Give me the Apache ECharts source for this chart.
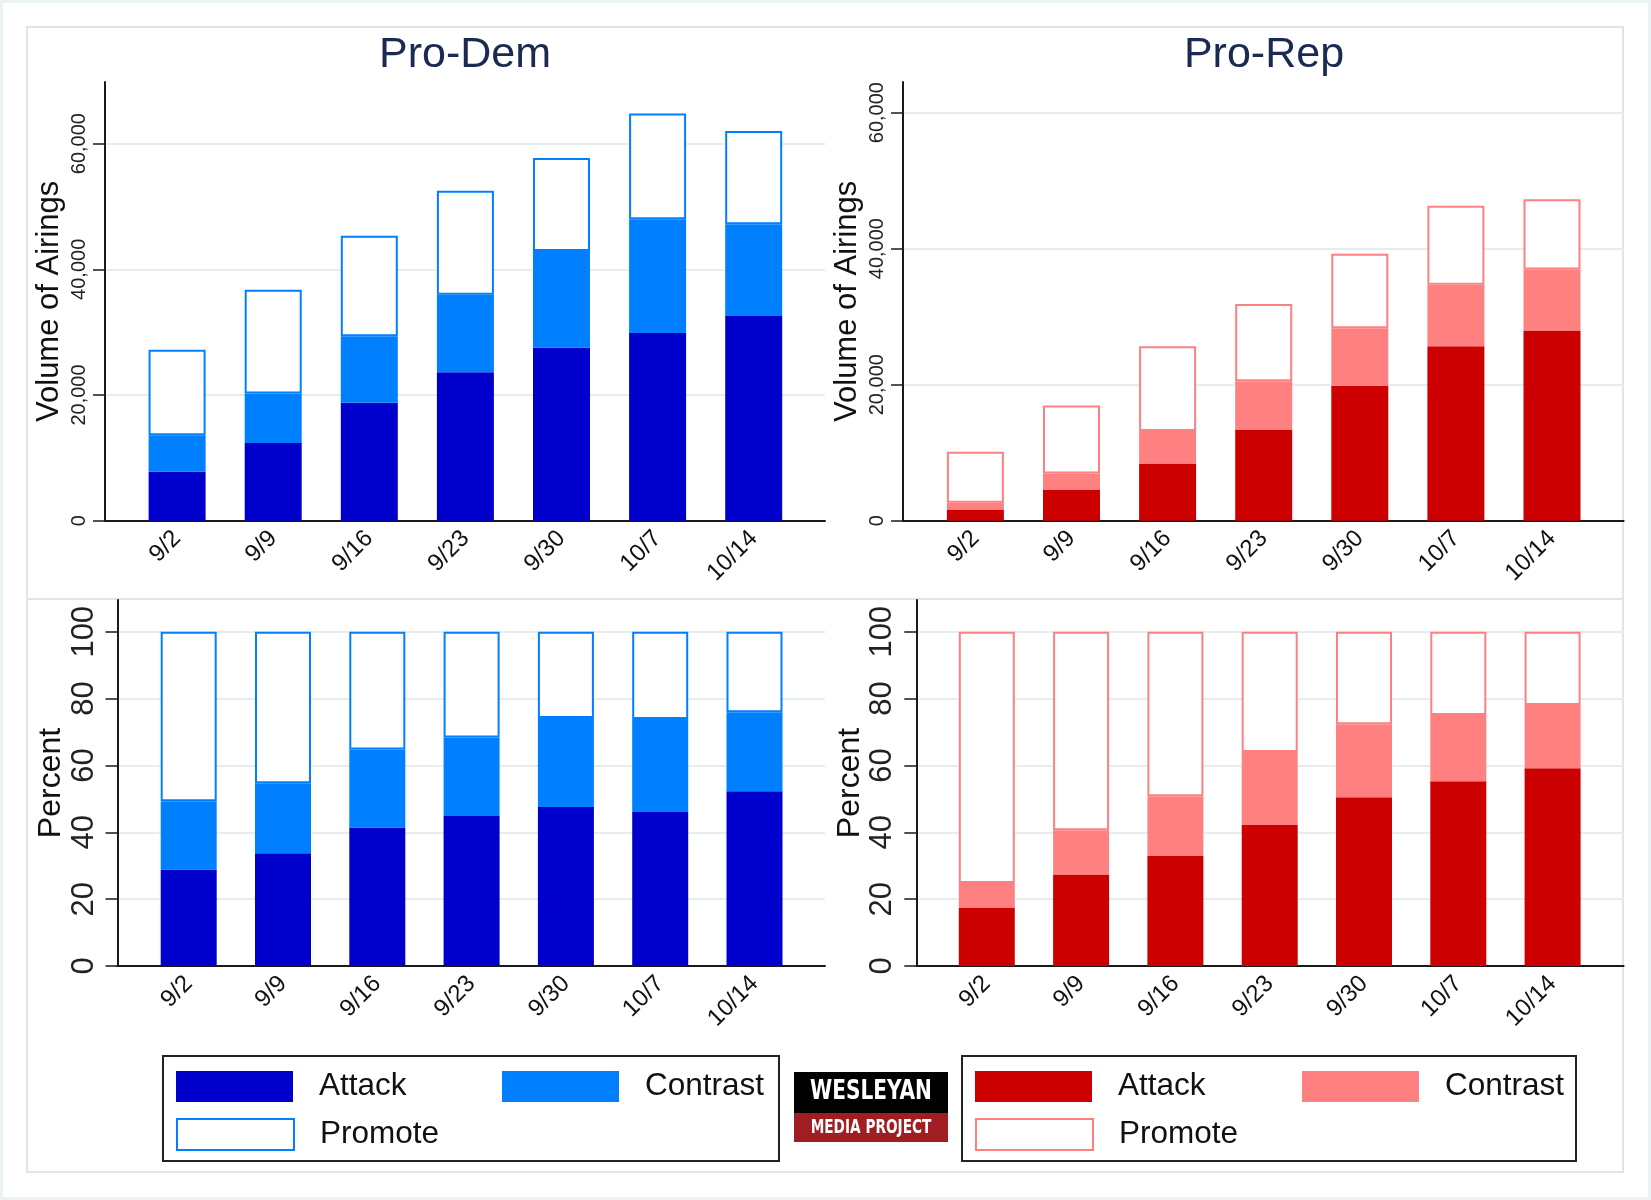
<!DOCTYPE html>
<html>
<head>
<meta charset="utf-8">
<script src="https://cdn.jsdelivr.net/npm/echarts@6/dist/echarts.min.js"></script>
<style>
html,body{margin:0;padding:0;background:#ecf3f4;}
#chart{width:1651px;height:1200px;}
</style>
</head>
<body>
<div id="chart"></div>
<script>
// ---- Data ----
const categories = ['9/2','9/9','9/16','9/23','9/30','10/7','10/14'];

const demVolAttack   = [7800, 12350, 18750, 23600, 27500, 29850, 32550];
const demVolContrast = [5800, 7900, 10600, 12350, 15400, 18100, 14600];
const demVolPromote  = [13600, 16500, 16000, 16550, 14800, 16850, 14850];

const repVolAttack   = [1650, 4600, 8400, 13400, 19850, 25650, 27950];
const repVolContrast = [1000, 2350, 4800, 7100, 8450, 9050, 9000];
const repVolPromote  = [7500, 10000, 12450, 11350, 10950, 11600, 10300];

const demPctAttack   = [28.9, 33.7, 41.4, 44.9, 47.6, 46.1, 52.3];
const demPctContrast = [20.4, 21.0, 23.4, 23.5, 26.6, 27.8, 23.6];
const demPctPromote  = [50.7, 45.3, 35.2, 31.6, 25.8, 26.1, 24.1];

const repPctAttack   = [17.5, 27.4, 32.9, 42.2, 50.5, 55.3, 59.2];
const repPctContrast = [7.3, 13.2, 17.9, 21.8, 21.8, 19.8, 18.9];
const repPctPromote  = [75.2, 59.4, 49.2, 36.0, 27.7, 24.9, 21.9];

const volTicks = [0, 20000, 40000, 60000];
const pctTicks = [0, 20, 40, 60, 80, 100];

const panelTitles = ['Pro-Dem', 'Pro-Rep'];
const volAxisName = 'Volume of Airings';
const pctAxisName = 'Percent';

// ---- Styles ----
const FONT = "'Liberation Sans', Arial, sans-serif";
const demColors = { attack: '#0000cc', contrast: '#0080ff', promote: '#0080ff' };
const repColors = { attack: '#cc0000', contrast: '#ff8080', promote: '#ff8080' };

const panels = [
  { // top-left
    names: ['Attack','Contrast','Promote'], colors: demColors,
    data: [demVolAttack, demVolContrast, demVolPromote],
    max: 69800, ticks: volTicks, axisName: volAxisName,
    a: {left:105, top:82, width:720, height:438.7},
    b: {left:129.05, width:672.7}, barWidth:57,
    labelSize:20, labelMargin:16, nameGap:40, nameSize:31, tickLen:12
  },
  { // top-right
    names: ['Rep Attack','Rep Contrast','Rep Promote'], colors: repColors,
    data: [repVolAttack, repVolContrast, repVolPromote],
    max: 64500, ticks: volTicks, axisName: volAxisName,
    a: {left:903, top:82, width:720.6, height:438.7},
    b: {left:927.35, width:672.7}, barWidth:57,
    labelSize:20, labelMargin:16, nameGap:40, nameSize:31, tickLen:12
  },
  { // bottom-left
    names: ['Attack','Contrast','Promote'], colors: demColors,
    data: [demPctAttack, demPctContrast, demPctPromote],
    max: 109.5, ticks: pctTicks, axisName: pctAxisName,
    a: {left:117.5, top:600, width:707.5, height:366},
    b: {left:141.55, width:660.1}, barWidth:56,
    labelSize:31, labelMargin:18, nameGap:50, nameSize:32, tickLen:12
  },
  { // bottom-right
    names: ['Rep Attack','Rep Contrast','Rep Promote'], colors: repColors,
    data: [repPctAttack, repPctContrast, repPctPromote],
    max: 109.5, ticks: pctTicks, axisName: pctAxisName,
    a: {left:916.3, top:600, width:707.3, height:366},
    b: {left:939.65, width:660.1}, barWidth:56,
    labelSize:31, labelMargin:18, nameGap:50, nameSize:32, tickLen:12
  }
];

const grid = [], xAxis = [], yAxis = [], series = [];
panels.forEach((p, i) => {
  const ga = 2*i, gb = 2*i + 1;
  grid.push({left:p.a.left, top:p.a.top, width:p.a.width, height:p.a.height});
  grid.push({left:p.b.left, top:p.a.top, width:p.b.width, height:p.a.height});
  xAxis.push({
    gridIndex: ga, type:'value', min:0, max:1,
    axisLine:{show:true, onZero:false, lineStyle:{color:'#1a1a1a', width:2}},
    axisTick:{show:false}, axisLabel:{show:false}, splitLine:{show:false}
  });
  xAxis.push({
    gridIndex: gb, type:'category', data: categories,
    axisLine:{show:false}, axisTick:{show:false}, splitLine:{show:false},
    axisLabel:{rotate:45, interval:0, fontSize:24, margin:14, color:'#111', fontFamily:FONT}
  });
  yAxis.push({
    gridIndex: ga, type:'value', min:0, max:p.max,
    axisLine:{show:true, lineStyle:{color:'#1a1a1a', width:2}},
    axisTick:{show:true, length:p.tickLen, customValues:p.ticks, lineStyle:{color:'#1a1a1a', width:1.5}},
    axisLabel:{customValues:p.ticks, rotate:90, fontSize:p.labelSize, margin:p.labelMargin, color:'#222', fontFamily:FONT,
      formatter: v => Number(v).toLocaleString('en-US')},
    splitLine:{show:true, lineStyle:{color:'#e5edef', width:2}},
    name: p.axisName, nameLocation:'middle', nameGap:p.nameGap,
    nameTextStyle:{fontSize:p.nameSize, color:'#111', fontFamily:FONT}
  });
  yAxis.push({gridIndex: gb, type:'value', min:0, max:p.max, show:false});
  const keys = ['attack','contrast','promote'];
  p.data.forEach((arr, k) => {
    const isPromote = k === 2;
    series.push({
      name: p.names[k], type:'bar', stack:'s'+i,
      xAxisIndex: gb, yAxisIndex: gb, barWidth: p.barWidth,
      data: arr,
      itemStyle: isPromote
        ? {color:'#ffffff', borderColor:p.colors.promote, borderWidth:2}
        : {color:p.colors[keys[k]]},
      emphasis:{disabled:true}
    });
  });
});

// Titles
const title = [
  {text: panelTitles[0], left:460, top:29, textAlign:'center',
   textStyle:{fontSize:43, fontWeight:'normal', color:'#1a2a50', fontFamily:FONT}},
  {text: panelTitles[1], left:1259, top:29, textAlign:'center',
   textStyle:{fontSize:43, fontWeight:'normal', color:'#1a2a50', fontFamily:FONT}}
];

// Legends (one per item for exact placement)
function leg(name, left, top, style){
  return {
    data:[{name:name, icon:'rect', itemStyle:style}],
    left:left, top:top, itemWidth:117, itemHeight:31, padding:0,
    selectedMode:false,
    formatter: n => n.replace('Rep ', ''),
    textStyle:{fontSize:31.5, color:'#111', fontFamily:FONT, lineHeight:31, padding:[4,0,0,21]}
  };
}
const legend = [
  leg('Attack', 176, 1069, {color:demColors.attack}),
  leg('Contrast', 502, 1069, {color:demColors.contrast}),
  leg('Promote', 176, 1117, {color:'#ffffff', borderColor:demColors.promote, borderWidth:2}),
  leg('Rep Attack', 975, 1069, {color:repColors.attack}),
  leg('Rep Contrast', 1302, 1069, {color:repColors.contrast}),
  leg('Rep Promote', 975, 1117, {color:'#ffffff', borderColor:repColors.promote, borderWidth:2})
];

const LOGOFONT = "'Liberation Sans Narrow', 'DejaVu Sans Condensed', 'Liberation Sans', sans-serif";
const graphic = [
  {type:'rect', z:-10, silent:true, shape:{x:3, y:3, width:1645, height:1194}, style:{fill:'#ffffff'}},
  {type:'rect', z:-9, silent:true, shape:{x:27, y:27, width:1596, height:1145}, style:{fill:'none', stroke:'#e2e5e6', lineWidth:2}},
  {type:'line', z:-9, silent:true, shape:{x1:27, y1:599, x2:1623, y2:599}, style:{stroke:'#e2e5e6', lineWidth:2}},
  {type:'rect', z:-8, silent:true, shape:{x:163, y:1056, width:616, height:105}, style:{fill:'#ffffff', stroke:'#222', lineWidth:2}},
  {type:'rect', z:-8, silent:true, shape:{x:962, y:1056, width:614, height:105}, style:{fill:'#ffffff', stroke:'#222', lineWidth:2}},
  {type:'rect', z:5, silent:true, shape:{x:794, y:1072, width:154, height:41}, style:{fill:'#000000'}},
  {type:'rect', z:5, silent:true, shape:{x:794, y:1113, width:154, height:29}, style:{fill:'#a01d22'}},
  {type:'text', z:6, silent:true, x:871, y:1092, scaleX:0.86, scaleY:1,
   style:{x:0, y:0, text:'WESLEYAN', fill:'#ffffff', align:'center', verticalAlign:'middle',
     font:"bold 26px " + LOGOFONT}},
  {type:'text', z:6, silent:true, x:871, y:1128, scaleX:0.8, scaleY:1,
   style:{x:0, y:0, text:'MEDIA PROJECT', fill:'#ffffff', align:'center', verticalAlign:'middle',
     font:"bold 19px " + LOGOFONT}}
];

const chart = echarts.init(document.getElementById('chart'), null, {renderer:'canvas'});
chart.setOption({
  animation:false,
  backgroundColor:'#ecf3f4',
  title, legend, grid, xAxis, yAxis, series, graphic,
  tooltip:{show:false}
});
</script>
</body>
</html>
